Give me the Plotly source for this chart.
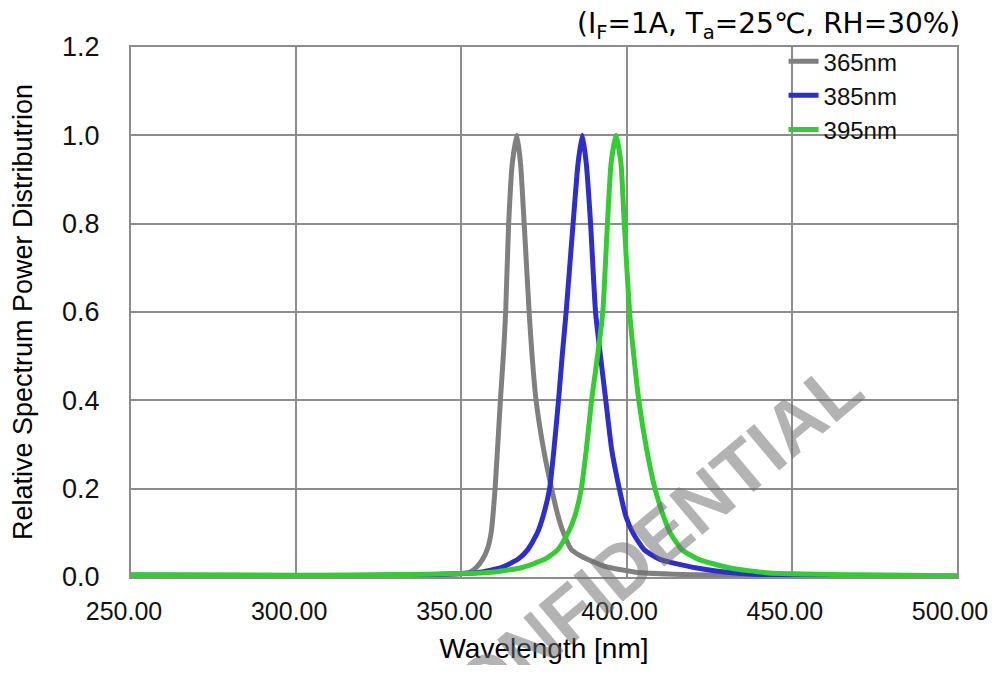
import plotly.graph_objects as go

# ---- data ----
wl_365 = [250, 300, 330, 345, 352.3, 354.4, 356.4, 357.8, 359.0, 360.2, 361.8, 362.8, 363.4, 364.3, 365.4, 366.8,
          367.9, 369.0, 370.5, 371.4, 372.6, 374.9, 377.3, 379.3, 380.9, 383.3, 386.3, 393.4, 403.6, 420, 450, 500]
rel_365 = [0.004, 0.003, 0.004, 0.006, 0.010, 0.021, 0.040, 0.062, 0.10, 0.20, 0.40, 0.514, 0.60, 0.80, 0.936, 1.0,
           0.936, 0.80, 0.60, 0.50, 0.40, 0.288, 0.20, 0.137, 0.10, 0.062, 0.047, 0.024, 0.010, 0.005, 0.003, 0.002]

wl_385 = [250, 300, 330, 345, 354.9, 362.0, 367.1, 370.1, 373.0, 374.7, 376.7, 378.0, 379.4, 380.5, 381.7, 383.8, 385.3, 386.6,
          387.8, 389.1, 390.6, 392.1, 393.7, 395.5, 397.8, 399.8, 401.9, 405.3, 410.1, 420.8, 432.9, 450, 500]
rel_385 = [0.004, 0.003, 0.004, 0.006, 0.010, 0.021, 0.040, 0.062, 0.10, 0.137, 0.20, 0.288, 0.40, 0.50, 0.60, 0.80, 0.936, 1.0,
           0.936, 0.80, 0.60, 0.50, 0.40, 0.288, 0.20, 0.137, 0.10, 0.062, 0.040, 0.021, 0.009, 0.003, 0.001]

wl_395 = [250, 300, 340, 358.0, 368.1, 375.2, 379.2, 382.3, 384.3, 386.3, 387.8, 389.4, 391.2, 392.8, 394.2, 395.3, 396.8,
          398.3, 399.3, 400.9, 402.2, 403.7, 406.1, 408.6, 411.2, 413.2, 416.7, 421.8, 430.9, 443.1, 470, 500]
rel_395 = [0.005, 0.004, 0.006, 0.010, 0.021, 0.040, 0.062, 0.10, 0.137, 0.20, 0.288, 0.40, 0.50, 0.60, 0.80, 0.936, 1.0,
           0.936, 0.80, 0.60, 0.50, 0.40, 0.288, 0.20, 0.137, 0.10, 0.062, 0.040, 0.021, 0.009, 0.005, 0.003]

series_names = ["365nm", "385nm", "395nm"]
series_colors = ["#808080", "#2e2ecc", "#33cc33"]

x_ticks = [250, 300, 350, 400, 450, 500]
y_ticks = [0.0, 0.2, 0.4, 0.6, 0.8, 1.0, 1.2]

title_text = "(I<sub>F</sub>=1A, T<sub>a</sub>=25℃, RH=30%)"
x_title = "Wavelength [nm]"
y_title = "Relative Spectrum Power Distributrion"
watermark = "CONFIDENTIAL"

FONT = "Liberation Sans, Arial, sans-serif"

fig = go.Figure()
for wl, rel, name, col in zip([wl_365, wl_385, wl_395], [rel_365, rel_385, rel_395], series_names, series_colors):
    fig.add_trace(go.Scatter(x=wl, y=rel, mode="lines", name=name,
                             line=dict(color=col, width=5, shape="spline", smoothing=0.5)))

# the page body has an 8px margin, so the figure is sized/offset to fit the window without overflow
grid_col = "#8c8c8c"
fig.update_layout(
    width=981, height=657,
    margin=dict(l=123, r=32, t=39, b=88),
    paper_bgcolor="white", plot_bgcolor="white",
    font=dict(family=FONT, color="#111111"),
    showlegend=True,
    legend=dict(x=0.790, y=1.015, xanchor="left", yanchor="top", bgcolor="rgba(0,0,0,0)",
                font=dict(size=24, family=FONT, color="#111111"),
                tracegroupgap=0, itemwidth=30),
    xaxis=dict(range=[250, 500], tickvals=x_ticks, tickformat=".2f",
               showgrid=True, gridcolor=grid_col, gridwidth=2,
               showline=True, linecolor=grid_col, linewidth=2, mirror=True,
               zeroline=False, ticks="", ticklabelstandoff=11, ticklabelshift=-7,
               ticklabeloverflow="allow", automargin=False,
               tickfont=dict(size=25, family=FONT, color="#111111"),
               title=dict(text=x_title, standoff=14,
                          font=dict(size=28, family=FONT, color="#000000"))),
    yaxis=dict(range=[0, 1.2], tickvals=y_ticks, tickformat=".1f",
               showgrid=True, gridcolor=grid_col, gridwidth=2,
               showline=True, linecolor=grid_col, linewidth=2, mirror=True,
               zeroline=False, ticks="", ticklabelstandoff=24, automargin=False,
               tickfont=dict(size=27, family=FONT, color="#111111"),
               title=dict(text=y_title, standoff=22,
                          font=dict(size=27, family=FONT, color="#000000"))),
)

fig.add_annotation(text=title_text, xref="paper", yref="paper", x=1.006, y=1.0, xanchor="right", yanchor="middle",
                   yshift=22, showarrow=False,
                   font=dict(size=28, family="DejaVu Sans, sans-serif", color="#000000"))

fig.add_annotation(text="<b>" + watermark + "</b>", xref="paper", yref="paper", x=0.612, y=0.040,
                   xanchor="center", yanchor="middle", textangle=-40, showarrow=False,
                   font=dict(size=75, family=FONT, color="rgba(110,110,110,0.52)"))

fig.write_html("out.html")
